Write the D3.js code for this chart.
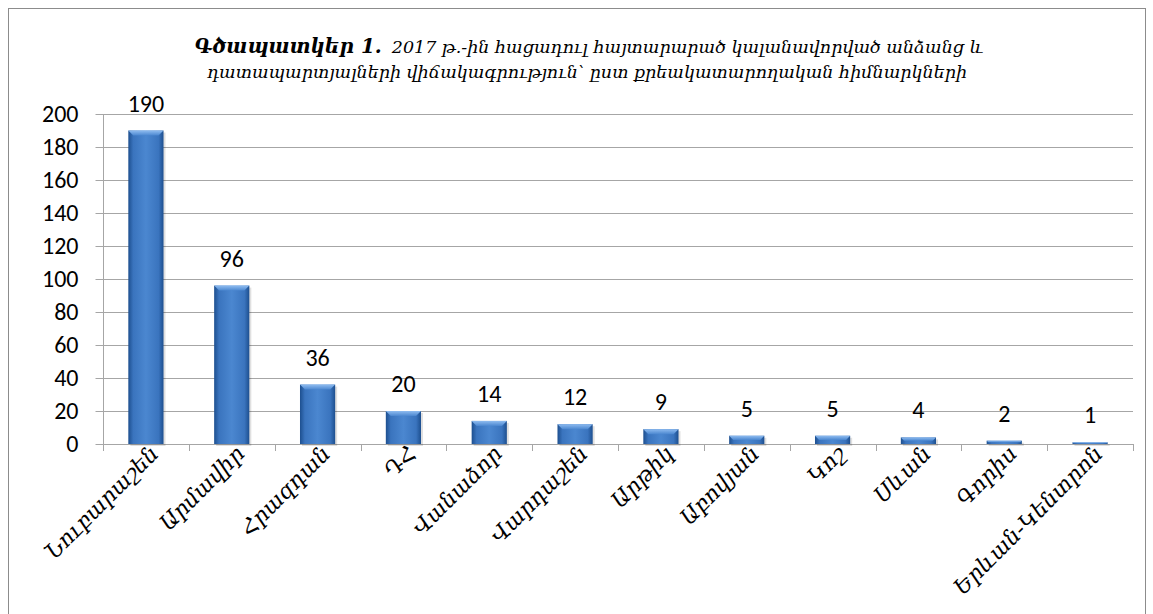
<!DOCTYPE html>
<html>
<head>
<meta charset="utf-8">
<script src="https://cdn.jsdelivr.net/npm/d3@7"></script>
<style>
  body { margin: 0; background: #fff; }
  svg { display: block; }
</style>
</head>
<body>
<svg id="chart" width="1153" height="614"></svg>
<script>
// data
const categories = ["Նուբարաշեն", "Արմավիր", "Հրազդան", "ԴՀ", "Վանաձոր", "Վարդաշեն",
  "Արթիկ", "Աբովյան", "Կոշ", "Սևան", "Գորիս", "Երևան-Կենտրոն"];
const values = [190, 96, 36, 20, 14, 12, 9, 5, 5, 4, 2, 1];
const yTicks = [0, 20, 40, 60, 80, 100, 120, 140, 160, 180, 200];
const titleBold = "Գծապատկեր 1.";
const titleLine1 = "2017 թ.-ին հացադուլ հայտարարած  կալանավորված անձանց և";
const titleLine2 = "դատապարտյալների վիճակագրություն՝ ըստ քրեակատարողական հիմնարկների";

const svg = d3.select("#chart");
const margin = { top: 114, right: 20, bottom: 170, left: 103 },
  width = 1030,
  height = 330;

const numFont = "Carlito, 'Noto Sans', 'Liberation Sans', sans-serif";
const armFont = "'DejaVu Serif', 'DejaVu Sans', serif";

// outer frame
svg.append("rect")
  .attr("x", 8.5).attr("y", 8.5)
  .attr("width", 1137).attr("height", 640)
  .attr("fill", "#fff")
  .attr("stroke", "#8c8c8c");

const defs = svg.append("defs");
const grad = defs.append("linearGradient").attr("id", "barGrad")
  .attr("x1", "0").attr("x2", "1").attr("y1", "0").attr("y2", "0");
grad.append("stop").attr("offset", "0%").attr("stop-color", "#1d4f8f");
grad.append("stop").attr("offset", "14%").attr("stop-color", "#3a74be");
grad.append("stop").attr("offset", "50%").attr("stop-color", "#4b87d0");
grad.append("stop").attr("offset", "86%").attr("stop-color", "#3a74be");
grad.append("stop").attr("offset", "100%").attr("stop-color", "#1d4f8f");

const capGrad = defs.append("linearGradient").attr("id", "capGrad")
  .attr("x1", "0").attr("x2", "0").attr("y1", "0").attr("y2", "1");
capGrad.append("stop").attr("offset", "0%").attr("stop-color", "#8fbcf0");
capGrad.append("stop").attr("offset", "100%").attr("stop-color", "#4b87d0");

const g = svg.append("g").attr("transform", "translate(" + margin.left + "," + margin.top + ")");

const x = d3.scaleBand().domain(categories).range([0, width]).paddingInner(0.59).paddingOuter(0.295);
const xStep = d3.scaleBand().domain(categories).range([0, width]);
const y = d3.scaleLinear().domain([0, 200]).range([height, 0]);

// gridlines
g.append("g")
  .selectAll("line")
  .data(yTicks.slice(1))
  .enter().append("line")
  .attr("x1", 0).attr("x2", width)
  .attr("y1", d => y(d) + 0.5).attr("y2", d => y(d) + 0.5)
  .attr("stroke", "#a6a6a6");

// y axis
const yAxis = g.append("g")
  .attr("transform", "translate(0.5,0)")
  .call(d3.axisLeft(y).tickValues(yTicks).tickSize(8).tickPadding(17));
yAxis.select(".domain").attr("stroke", "#a6a6a6").attr("d", "M0,0V" + height);
yAxis.selectAll(".tick line").attr("stroke", "#a6a6a6");
yAxis.selectAll("text")
  .attr("fill", "#000")
  .attr("font-family", numFont)
  .attr("font-size", 24);

// x axis line with boundary ticks
g.append("line")
  .attr("x1", 0).attr("x2", width)
  .attr("y1", height + 0.5).attr("y2", height + 0.5)
  .attr("stroke", "#a6a6a6");
g.append("g")
  .selectAll("line")
  .data(categories.concat(["__end"]))
  .enter().append("line")
  .attr("x1", (d, i) => Math.round(i * xStep.step()) + 0.5)
  .attr("x2", (d, i) => Math.round(i * xStep.step()) + 0.5)
  .attr("y1", height).attr("y2", height + 7)
  .attr("stroke", "#a6a6a6");

// bars
const bars = g.append("g")
  .selectAll("g")
  .data(values)
  .enter().append("g");

bars.append("rect")
  .attr("x", (d, i) => x(categories[i]) + 2)
  .attr("y", d => y(d) + 2)
  .attr("width", x.bandwidth())
  .attr("height", d => height - y(d))
  .attr("fill", "#000")
  .attr("opacity", 0.12);

bars.append("rect")
  .attr("x", (d, i) => x(categories[i]))
  .attr("y", d => y(d))
  .attr("width", x.bandwidth())
  .attr("height", d => height - y(d))
  .attr("fill", "url(#barGrad)");

bars.append("path")
  .attr("d", (d, i) => {
    const x0 = x(categories[i]), w = x.bandwidth(), t = y(d);
    const b = Math.min(5, (height - t) / 2);
    return "M" + x0 + "," + t + "H" + (x0 + w) + "L" + (x0 + w - b) + "," + (t + b) +
      "H" + (x0 + b) + "Z";
  })
  .attr("fill", "url(#capGrad)");

// value labels
g.append("g")
  .selectAll("text")
  .data(values)
  .enter().append("text")
  .attr("x", (d, i) => x(categories[i]) + x.bandwidth() / 2)
  .attr("y", d => y(d) - 19)
  .attr("text-anchor", "middle")
  .attr("font-family", numFont)
  .attr("font-size", 24)
  .attr("fill", "#000")
  .text(d => d);

// category labels, rotated
g.append("g")
  .selectAll("text")
  .data(categories)
  .enter().append("text")
  .attr("transform", d => "translate(" + (x(d) + x.bandwidth() / 2 + 14) + "," + (height + 11) + ") rotate(-45)")
  .attr("text-anchor", "end")
  .attr("font-family", armFont)
  .attr("font-style", "italic")
  .attr("font-size", 22)
  .attr("fill", "#000")
  .text(d => d);

// title
const title = svg.append("text")
  .attr("x", 589).attr("y", 53)
  .attr("text-anchor", "middle")
  .attr("font-family", armFont)
  .attr("font-style", "italic")
  .attr("fill", "#000");
title.append("tspan").attr("font-weight", "bold").attr("font-size", 20).text(titleBold);
title.append("tspan").attr("font-size", 17.5).attr("dx", 10).text(titleLine1);

svg.append("text")
  .attr("x", 587).attr("y", 78)
  .attr("text-anchor", "middle")
  .attr("font-family", armFont)
  .attr("font-style", "italic")
  .attr("font-size", 17.5)
  .attr("fill", "#000")
  .text(titleLine2);
</script>
</body>
</html>
